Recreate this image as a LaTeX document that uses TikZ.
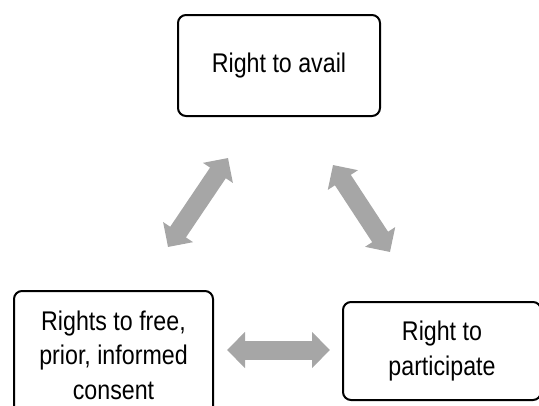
\documentclass[tikz,border=0pt]{standalone}
\usepackage{fontspec}
\setmainfont{Liberation Sans}[FakeStretch=0.86]
\usetikzlibrary{arrows.meta, positioning}
\tikzset{
    % Boxes
    rightbox/.style={rectangle, draw=black, line width=2pt, rounded corners=8pt,
                     fill=white, align=center, inner sep=4pt,
                     font=\fontsize{27}{34.5}\selectfont},
    % Grey block arrows
    linkarrow/.style={draw=black!35, line width=19pt, line cap=butt,
                      {Triangle[width=35pt, length=18pt]}-{Triangle[width=35pt, length=18pt]}}
}
\begin{document}
\begin{tikzpicture}[x=1pt, y=-1pt]
\useasboundingbox (0,0) rectangle (539,405);

\node[rightbox, minimum width=202pt, minimum height=101pt] (avail) at (279,65.5) {Right to avail};
\node[rightbox, minimum width=199pt, minimum height=128pt] (fpic) at (113.5,355) {Rights to free,\\prior, informed\\consent};
\node[rightbox, minimum width=198pt, minimum height=98pt] (part) at (442,351) {Right to\\participate};

% arrow ends
\coordinate (fpicUp) at (168,247);
\coordinate (availLeft) at (228,158);
\coordinate (availRight) at (333,165);
\coordinate (partUp) at (390,252);
\coordinate (fpicRight) at (227,350);
\coordinate (partLeft) at (330,350);

\draw[linkarrow] (fpicUp) -- (availLeft);
\draw[linkarrow] (availRight) -- (partUp);
\draw[linkarrow] (fpicRight) -- (partLeft);

\end{tikzpicture}
\end{document}
